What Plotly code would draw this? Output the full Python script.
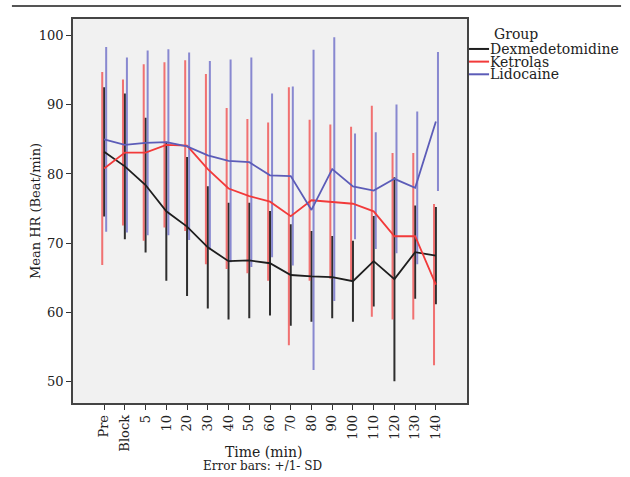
import plotly.graph_objects as go

categories = ["Pre", "Block", "5", "10", "20", "30", "40", "50", "60", "70",
              "80", "90", "100", "110", "120", "130", "140"]

dex_mean = [83.2, 81.1, 78.4, 74.6, 72.4, 69.4, 67.4, 67.5, 67.1, 65.4, 65.2, 65.1, 64.5, 67.4, 64.8, 68.7, 68.2]
dex_sd = [9.2, 10.4, 9.6, 9.9, 9.9, 8.7, 8.3, 8.2, 7.4, 7.2, 6.4, 5.8, 5.7, 6.4, 14.6, 6.6, 6.9]

ket_mean = [80.8, 83.1, 83.1, 84.2, 84.1, 80.7, 77.9, 76.8, 76.0, 73.9, 76.2, 76.0, 75.7, 74.6, 71.0, 71.0, 64.0]
ket_sd = [13.8, 10.4, 12.6, 11.8, 12.2, 13.6, 11.5, 11.0, 11.3, 18.5, 11.5, 11.0, 11.0, 15.1, 11.9, 11.9, 11.5]

lid_mean = [85.0, 84.2, 84.5, 84.6, 84.0, 82.7, 81.9, 81.7, 79.8, 79.7, 74.8, 80.7, 78.2, 77.6, 79.3, 78.0, 87.6]
lid_sd = [13.2, 12.5, 13.2, 13.3, 13.4, 13.5, 14.5, 15.0, 11.7, 12.8, 23.0, 18.9, 7.5, 8.3, 10.6, 10.9, 9.9]

group_names = ["Dexmedetomidine", "Ketrolas", "Lidocaine"]
line_colors = ["#1e1e1e", "#f23a3a", "#5c5cb8"]
bar_colors = ["#2e2e2e", "rgba(240,70,70,0.75)", "rgba(110,110,200,0.8)"]
bar_offsets = [0.0, -0.09, 0.1]
means = [dex_mean, ket_mean, lid_mean]
sds = [dex_sd, ket_sd, lid_sd]

FONT = "DejaVu Serif"
idx = list(range(len(categories)))

fig = go.Figure()
# error bars (slightly offset within each category)
for m, sd, ec, off in zip(means, sds, bar_colors, bar_offsets):
    fig.add_trace(go.Scatter(
        x=[i + off for i in idx], y=m, mode="markers",
        marker=dict(size=1, opacity=0),
        error_y=dict(type="data", array=sd, visible=True, color=ec, thickness=2, width=1),
        showlegend=False, hoverinfo="skip"))
# mean lines
for name, m, lc in zip(group_names, means, line_colors):
    fig.add_trace(go.Scatter(
        x=idx, y=m, mode="lines", name=name, showlegend=False,
        line=dict(color=lc, width=1.8)))

fig.update_layout(
    width=630, height=477,
    margin=dict(l=73, r=163, t=19, b=74, autoexpand=False),
    paper_bgcolor="white", plot_bgcolor="#f1f1f1",
    font=dict(family=FONT, size=13, color="#222"),
    showlegend=False,
    xaxis=dict(
        range=[-1.5, 17.5], tickmode="array", tickvals=idx, ticktext=categories,
        tickangle=-90, ticks="outside", ticklen=5, tickcolor="#333",
        showgrid=False, zeroline=False, showline=True, linecolor="#444",
        linewidth=1.5, mirror=True, tickfont=dict(family=FONT, size=13),
        automargin=False),
    yaxis=dict(
        range=[46.9, 102.4], tickvals=[50, 60, 70, 80, 90, 100],
        ticks="outside", ticklen=5, tickcolor="#333",
        showgrid=False, zeroline=False, showline=True, linecolor="#444",
        linewidth=1.5, mirror=True, tickfont=dict(family=FONT, size=13),
        automargin=False),
)

# axis titles and footnote
fig.add_annotation(text="Mean HR (Beat/min)", xref="paper", yref="paper",
                   x=-0.0964, y=0.5, xanchor="center", yanchor="middle",
                   textangle=-90, showarrow=False,
                   font=dict(family=FONT, size=13, color="#222"))
fig.add_annotation(text="Time (min)", xref="paper", yref="paper",
                   x=0.484, y=-0.1276, yanchor="middle", showarrow=False,
                   font=dict(family=FONT, size=14, color="#222"))
fig.add_annotation(text="Error bars: +/1- SD", xref="paper", yref="paper",
                   x=0.48, y=-0.164, yanchor="middle", showarrow=False,
                   font=dict(family=FONT, size=12, color="#222"))

# legend (compact, as in the reference)
fig.add_annotation(text="Group", xref="paper", yref="paper", x=1.0635, y=0.961,
                   xanchor="left", yanchor="middle", showarrow=False,
                   font=dict(family=FONT, size=14, color="#222"))
leg_y = [0.922, 0.889, 0.856]
for name, lc, yy in zip(group_names, line_colors, leg_y):
    fig.add_shape(type="line", xref="paper", yref="paper",
                  x0=1.005, x1=1.056, y0=yy, y1=yy, line=dict(color=lc, width=2))
    fig.add_annotation(text=name, xref="paper", yref="paper", x=1.054, y=yy,
                       xanchor="left", yanchor="middle", showarrow=False,
                       font=dict(family=FONT, size=14, color="#222"))

# top rule across the figure
fig.add_shape(type="line", xref="paper", yref="paper",
              x0=-0.155, x1=1.391, y0=1.034, y1=1.034,
              line=dict(color="#555", width=2))

fig.write_html("out.html", config={"displayModeBar": False},
               post_script="document.body.style.margin='0';")
